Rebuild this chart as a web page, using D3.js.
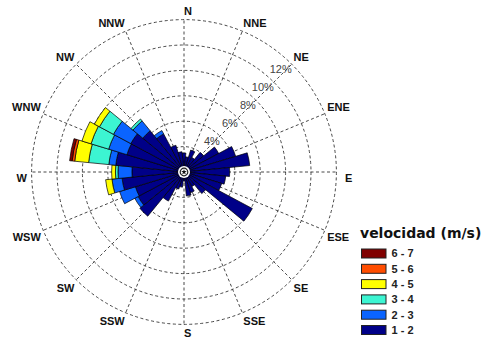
<!DOCTYPE html>
<html>
<head>
<meta charset="utf-8">
<script src="https://cdn.jsdelivr.net/npm/d3@7"></script>
<style>
  html, body { margin: 0; padding: 0; background: #fff; }
  svg { display: block; }
</style>
</head>
<body>
<svg id="chart" width="487" height="345"></svg>
<script>
// Wind rose: 32 direction sectors, frequency (%) per wind-speed class
const sectorCount = 32;
const speedClasses = ["1 - 2", "2 - 3", "3 - 4", "4 - 5", "5 - 6", "6 - 7"];
const classColors = ["#000088", "#0a64ff", "#3cf5d2", "#ffff00", "#ff4d00", "#800000"];

// sector 0 = N, then clockwise every 11.25°
const freq1_2 = [1.5, 1.2, 1.8, 1.3, 2.0, 3.1, 4.25, 5.2, 3.6, 3.3, 3.1, 6.1, 2.2, 1.3, 1.7, 1.9,
                 0.7, 1.2, 1.4, 2.6, 4.5, 4.1, 4.0, 4.9, 4.1, 5.4, 4.7, 4.75, 4.2, 3.4, 2.2, 1.6];
const freq2_3 = [0, 0, 0, 0, 0, 0, 0, 0, 0, 0, 0, 0, 0, 0, 0, 0,
                 0, 0, 0, 0, 0, 0.3, 1.3, 0.8, 1.1, 0.55, 1.5, 1.55, 1.0, 0.3, 0, 0];
const freq3_4 = [0, 0, 0, 0, 0, 0, 0, 0, 0, 0, 0, 0, 0, 0, 0, 0,
                 0, 0, 0, 0, 0, 0, 0, 0, 0.2, 1.6, 1.45, 1.25, 0.2, 0, 0, 0];
const freq4_5 = [0, 0, 0, 0, 0, 0, 0, 0, 0, 0, 0, 0, 0, 0, 0, 0,
                 0, 0, 0, 0, 0, 0, 0, 0.5, 0.3, 1.1, 0.75, 0.45, 0, 0, 0, 0];
const freq5_6 = [0, 0, 0, 0, 0, 0, 0, 0, 0, 0, 0, 0, 0, 0, 0, 0,
                 0, 0, 0, 0, 0, 0, 0, 0, 0, 0.2, 0, 0, 0, 0, 0, 0];
const freq6_7 = [0, 0, 0, 0, 0, 0, 0, 0, 0, 0, 0, 0, 0, 0, 0, 0,
                 0, 0, 0, 0, 0, 0, 0, 0, 0, 0.2, 0, 0, 0, 0, 0, 0];

const ringValues = [2, 4, 6, 8, 10, 12];
const ringLabelValues = [4, 6, 8, 10, 12];
const compassLabels = ["N", "NNE", "NE", "ENE", "E", "ESE", "SE", "SSE",
                       "S", "SSW", "SW", "WSW", "W", "WNW", "NW", "NNW"];
const legendTitle = "velocidad (m/s)";

const svg = d3.select("#chart");
const cx = 184, cy = 172;
const r = d3.scaleLinear().domain([0, 12]).range([0, 152.4]);
const sectorAngle = d3.scaleLinear().domain([0, sectorCount]).range([0, 2 * Math.PI]);
const compassAngle = d3.scaleLinear().domain([0, compassLabels.length]).range([0, 2 * Math.PI]);

const rose = svg.append("g").attr("transform", `translate(${cx},${cy})`);

// grid: dashed rings and spokes
const grid = rose.append("g")
  .attr("fill", "none")
  .attr("stroke", "#333")
  .attr("stroke-width", 0.9)
  .attr("stroke-dasharray", "3,2.5");

grid.selectAll("circle.ring")
  .data(ringValues)
  .join("circle")
  .attr("class", "ring")
  .attr("r", d => r(d));

grid.selectAll("line.spoke")
  .data(compassLabels.map((d, i) => i))
  .join("line")
  .attr("class", "spoke")
  .attr("x1", 0).attr("y1", 0)
  .attr("x2", i => r(12) * Math.sin(compassAngle(i)))
  .attr("y2", i => -r(12) * Math.cos(compassAngle(i)));

// stacked sectors
const series = [freq1_2, freq2_3, freq3_4, freq4_5, freq5_6, freq6_7];
const segments = [];
for (let k = 0; k < sectorCount; k++) {
  let base = 0;
  series.forEach((values, c) => {
    const v = values[k];
    if (v > 0) {
      segments.push({ k, c, y0: base, y1: base + v });
      base += v;
    }
  });
}

const arc = d3.arc()
  .innerRadius(d => r(d.y0))
  .outerRadius(d => r(d.y1))
  .startAngle(d => sectorAngle(d.k - 0.5))
  .endAngle(d => sectorAngle(d.k + 0.5));

rose.append("g")
  .selectAll("path")
  .data(segments)
  .join("path")
  .attr("d", arc)
  .attr("fill", d => classColors[d.c])
  .attr("stroke", "#000")
  .attr("stroke-width", 0.7)
  .attr("stroke-linejoin", "miter");

// centre marker
rose.append("circle").attr("r", 6).attr("fill", "#fff");
rose.append("circle").attr("r", 3.8).attr("fill", "#fff")
  .attr("stroke", "#222").attr("stroke-width", 1.2);
rose.append("path")
  .attr("d", d3.symbol().type(d3.symbolStar).size(10)())
  .attr("fill", "#111");

// ring percentage labels along 45°
rose.append("g")
  .selectAll("text")
  .data(ringLabelValues)
  .join("text")
  .attr("x", d => r(d) * Math.SQRT1_2)
  .attr("y", d => -r(d) * Math.SQRT1_2)
  .attr("dy", "0.78em")
  .attr("text-anchor", "end")
  .attr("font-family", "'Liberation Sans', Arial, sans-serif")
  .attr("font-size", 11)
  .attr("fill", "#444")
  .text(d => d + "%");

// compass labels
const labelR = 155;
rose.append("g")
  .selectAll("text")
  .data(compassLabels)
  .join("text")
  .each(function (d, i) {
    const a = compassAngle(i);
    const s = Math.sin(a), c = Math.cos(a);
    let x = labelR * s;
    if (s > 0.99) x += 6;
    if (s < -0.99) x -= 2;
    const y = -labelR * c + (c > 0.01 ? -5.5 : 6);
    const anchor = s < -0.01 ? "end" : "start";
    d3.select(this)
      .attr("x", x)
      .attr("y", y)
      .attr("dy", "0.36em")
      .attr("text-anchor", anchor);
  })
  .attr("font-family", "'Liberation Sans', Arial, sans-serif")
  .attr("font-weight", "bold")
  .attr("font-size", 11)
  .attr("fill", "#111")
  .text(d => d);

// legend
const legend = svg.append("g");
legend.append("text")
  .attr("x", 360)
  .attr("y", 237.5)
  .attr("font-family", "'DejaVu Sans', Verdana, sans-serif")
  .attr("font-weight", "bold")
  .attr("font-size", 14)
  .attr("fill", "#111")
  .text(legendTitle);

const rowY = d3.scalePoint()
  .domain(speedClasses.slice().reverse())
  .range([253.5, 330]);

const rows = legend.selectAll("g.row")
  .data(speedClasses.map((d, i) => ({ label: d, color: classColors[i] })))
  .join("g")
  .attr("class", "row")
  .attr("transform", d => `translate(0,${rowY(d.label)})`);

rows.append("rect")
  .attr("x", 361.5)
  .attr("y", -4.5)
  .attr("width", 24.5)
  .attr("height", 9)
  .attr("fill", d => d.color)
  .attr("stroke", "#222")
  .attr("stroke-width", 1);

rows.append("text")
  .attr("x", 391.5)
  .attr("y", 0)
  .attr("dy", "0.36em")
  .attr("font-family", "'Liberation Sans', Arial, sans-serif")
  .attr("font-weight", "bold")
  .attr("font-size", 11)
  .attr("fill", "#222")
  .text(d => d.label);
</script>
</body>
</html>
